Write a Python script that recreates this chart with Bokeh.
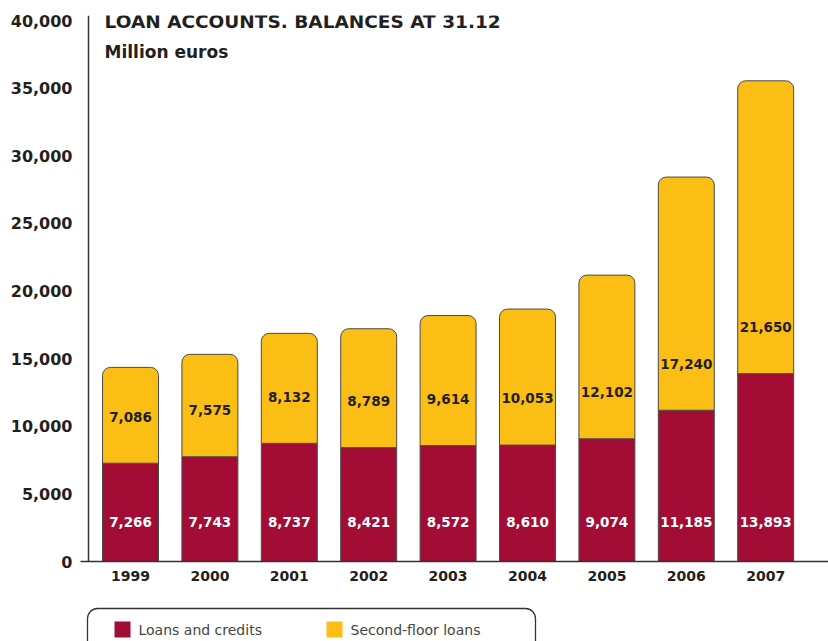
from bokeh.plotting import figure
from bokeh.layouts import column
from bokeh.models import Range1d, FixedTicker, NumeralTickFormatter, Span, Label, ColumnDataSource
from bokeh.core.properties import value
from bokeh.embed import file_html
from bokeh.resources import INLINE

years = ["1999", "2000", "2001", "2002", "2003", "2004", "2005", "2006", "2007"]
loans_and_credits = [7266, 7743, 8737, 8421, 8572, 8610, 9074, 11185, 13893]
second_floor_loans = [7086, 7575, 8132, 8789, 9614, 10053, 12102, 17240, 21650]
y_ticks = [0, 5000, 10000, 15000, 20000, 25000, 30000, 35000, 40000]

CRIMSON = "#A20C35"
YELLOW = "#FBBE14"
EDGE = "#4a4a4a"
TEXT = "#231F20"
FONT = value("DejaVu Sans")

xs = list(range(len(years)))
totals = [a + b for a, b in zip(loans_and_credits, second_floor_loans)]

src = ColumnDataSource(dict(
    x=xs,
    loans=loans_and_credits,
    second=second_floor_loans,
    total=totals,
    loans_lbl=[f"{v:,}" for v in loans_and_credits],
    second_lbl=[f"{v:,}" for v in second_floor_loans],
    loans_y=[2900 for _ in loans_and_credits],
    second_y=[v + 3450 for v in loans_and_credits],
))

p = figure(width=828, height=600, title=None,
           x_range=Range1d(-0.6297, 8.791), y_range=Range1d(0, 40370),
           output_backend="svg", toolbar_location=None,
           min_border_left=80, min_border_right=0, min_border_top=15, min_border_bottom=39)
p.outline_line_color = None
p.grid.visible = False

p.vbar(x="x", width=0.705, bottom=0, top="loans", source=src,
       fill_color=CRIMSON, line_color=EDGE, line_width=1)
p.vbar(x="x", width=0.705, bottom="loans", top="total", source=src,
       fill_color=YELLOW, line_color=EDGE, line_width=1, border_radius=(8, 8, 0, 0))

p.text(x="x", y="loans_y", text="loans_lbl", source=src, text_color="white",
       text_font=FONT, text_font_style="bold", text_font_size="13.5px",
       text_align="center", text_baseline="middle")
p.text(x="x", y="second_y", text="second_lbl", source=src, text_color=TEXT,
       text_font=FONT, text_font_style="bold", text_font_size="13.5px",
       text_align="center", text_baseline="middle")

# y axis
p.yaxis.ticker = FixedTicker(ticks=y_ticks)
p.yaxis.formatter = NumeralTickFormatter(format="0,0")
p.yaxis.axis_line_color = None
p.yaxis.major_tick_line_color = None
p.yaxis.minor_tick_line_color = None
p.yaxis.major_tick_out = 0
p.yaxis.major_label_standoff = 8
p.yaxis.major_label_text_font = "DejaVu Sans"
p.yaxis.major_label_text_font_style = "bold"
p.yaxis.major_label_text_font_size = "16px"
p.yaxis.major_label_text_color = TEXT

p.add_layout(Span(location=-0.529, dimension="height", line_color="#333333", line_width=1.5))

# x axis
p.xaxis.ticker = FixedTicker(ticks=xs)
p.xaxis.major_label_overrides = {i: y for i, y in zip(xs, years)}
p.xaxis.axis_line_color = "#333333"
p.xaxis.axis_line_width = 1.5
p.xaxis.major_tick_line_color = None
p.xaxis.minor_tick_line_color = None
p.xaxis.major_tick_out = 0
p.xaxis.major_label_standoff = 9
p.xaxis.major_label_text_font = "DejaVu Sans"
p.xaxis.major_label_text_font_style = "bold"
p.xaxis.major_label_text_font_size = "14px"
p.xaxis.major_label_text_color = TEXT

p.add_layout(Label(x=-0.327, y=39900, text="LOAN ACCOUNTS. BALANCES AT 31.12",
                   text_font="DejaVu Sans", text_font_style="bold", text_font_size="18.5px",
                   text_color=TEXT, text_baseline="middle"))
p.add_layout(Label(x=-0.327, y=37700, text="Million euros",
                   text_font="DejaVu Sans", text_font_style="bold", text_font_size="17px",
                   text_color=TEXT, text_baseline="middle"))

# legend strip (frame aligned with main plot frame: x in pixels 80..828)
lg = figure(width=828, height=41, title=None, x_range=Range1d(80, 828), y_range=Range1d(0, 41),
            output_backend="svg", toolbar_location=None,
            min_border_left=80, min_border_right=0, min_border_top=0, min_border_bottom=0,
            x_axis_location=None, y_axis_location=None)
lg.outline_line_color = None
lg.grid.visible = False
lg.quad(left=87, right=535, bottom=-30, top=33, fill_color=None,
        line_color="#333333", line_width=1.3, border_radius=10)
lg.quad(left=[114, 326], right=[130, 342], bottom=[4, 4], top=[20, 20],
        fill_color=[CRIMSON, YELLOW], line_color=None)
lg.text(x=[138, 350], y=[12, 12], text=["Loans and credits", "Second-floor loans"],
        text_font=FONT, text_font_size="14px", text_color="#444444",
        text_baseline="middle")

layout = column(p, lg, spacing=0)
open("out.html", "w").write(file_html(layout, INLINE))
